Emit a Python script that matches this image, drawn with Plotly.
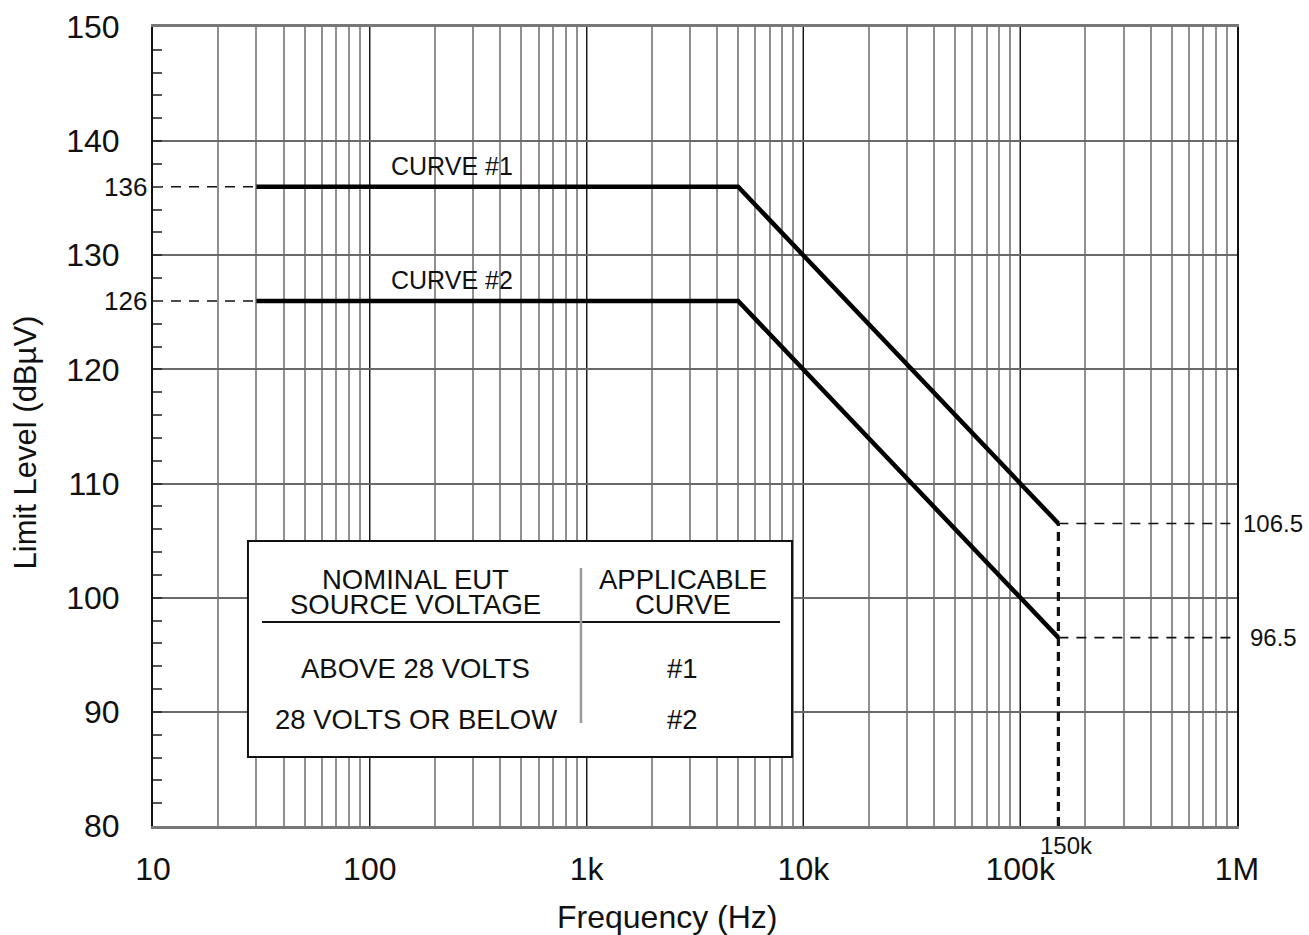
import math
import plotly.graph_objects as go

# ---- data ----
curve_freq = [30, 5000, 150000]
curve1_level = [136, 136, 106.5]
curve2_level = [126, 126, 96.5]
left_ref_freq = [10, 30]
left_ref_levels = [136, 126]
right_ref_freq = [150000, 1000000]
right_ref_levels = [106.5, 96.5]
right_ref_labels = ["106.5", "96.5"]
limit_freq = 150000
limit_label = "150k"
floor_level = 80
x_tickvals = [10, 100, 1000, 10000, 100000, 1000000]
x_ticktext = ["10", "100", "1k", "10k", "100k", "1M"]
y_tickvals = [80, 90, 100, 110, 120, 130, 140, 150]
curve_names = ["CURVE #1", "CURVE #2"]
table_header_left = ["NOMINAL EUT", "SOURCE VOLTAGE"]
table_header_right = ["APPLICABLE", "CURVE"]
table_rows_left = ["ABOVE 28 VOLTS", "28 VOLTS OR BELOW"]
table_rows_right = ["#1", "#2"]

FONT = "Liberation Sans, Arial, sans-serif"
INK = "#111111"

fig = go.Figure()

# dashed reference lines
for lvl in left_ref_levels:
    fig.add_trace(go.Scatter(x=left_ref_freq, y=[lvl, lvl], mode="lines",
                             line=dict(color=INK, width=1.6, dash="10px,8px"),
                             hoverinfo="skip", showlegend=False))
for lvl in right_ref_levels:
    fig.add_trace(go.Scatter(x=right_ref_freq, y=[lvl, lvl], mode="lines",
                             line=dict(color=INK, width=1.6, dash="10px,8px"),
                             hoverinfo="skip", showlegend=False))
fig.add_trace(go.Scatter(x=[limit_freq, limit_freq], y=[floor_level, right_ref_levels[0]],
                         mode="lines", line=dict(color=INK, width=3.2, dash="9px,6px"),
                         hoverinfo="skip", showlegend=False))

# limit curves
for lv, nm in zip([curve1_level, curve2_level], curve_names):
    fig.add_trace(go.Scatter(x=curve_freq, y=lv, mode="lines", name=nm,
                             line=dict(color="#000000", width=4.5),
                             showlegend=False))

annotations = []
# curve labels
for lv, nm in zip([curve1_level, curve2_level], curve_names):
    annotations.append(dict(x=math.log10(240), y=lv[0], xref="x", yref="y", text=nm,
                            showarrow=False, xanchor="center", yanchor="bottom", yshift=5,
                            font=dict(size=25, color=INK, family=FONT)))
# left small level labels
for lvl in left_ref_levels:
    annotations.append(dict(x=0, y=lvl, xref="x domain", yref="y", text=str(lvl),
                            showarrow=False, xanchor="right", xshift=-4,
                            font=dict(size=26, color=INK, family=FONT)))
# right small level labels
for lvl, lab in zip(right_ref_levels, right_ref_labels):
    annotations.append(dict(x=1, y=lvl, xref="x domain", yref="y", text=lab,
                            showarrow=False, xanchor="center", xshift=36,
                            font=dict(size=24, color=INK, family=FONT)))
# 150k label
annotations.append(dict(x=math.log10(limit_freq), y=0, xref="x", yref="y domain",
                        text=limit_label, showarrow=False, xanchor="left", xshift=-20,
                        yanchor="middle", yshift=-19,
                        font=dict(size=24, color=INK, family=FONT)))
# axis titles
annotations.append(dict(x=0.475, y=0, xref="x domain", yref="y domain",
                        text="Frequency (Hz)", showarrow=False, xanchor="center",
                        yanchor="middle", yshift=-91,
                        font=dict(size=32, color=INK, family=FONT)))
annotations.append(dict(x=0, y=0.48, xref="x domain", yref="y domain",
                        text="Limit Level (dBµV)", showarrow=False, textangle=-90,
                        xanchor="center", yanchor="middle", xshift=-128,
                        font=dict(size=31, color=INK, family=FONT)))

# table text
col_left_x, col_right_x = 0.2426, 0.4889
TF = dict(size=27.5, color=INK, family=FONT)
for txt, yy in zip(table_header_left, [0.3079, 0.2778]):
    annotations.append(dict(x=col_left_x, y=yy, xref="x domain", yref="y domain", text=txt,
                            showarrow=False, xanchor="center", yanchor="middle", font=TF))
for txt, yy in zip(table_header_right, [0.3079, 0.2778]):
    annotations.append(dict(x=col_right_x, y=yy, xref="x domain", yref="y domain", text=txt,
                            showarrow=False, xanchor="center", yanchor="middle", font=TF))
for txt, yy in zip(table_rows_left, [0.1977, 0.1327]):
    annotations.append(dict(x=col_left_x, y=yy, xref="x domain", yref="y domain", text=txt,
                            showarrow=False, xanchor="center", yanchor="middle", font=TF))
for txt, yy in zip(table_rows_right, [0.1977, 0.1327]):
    annotations.append(dict(x=col_right_x, y=yy, xref="x domain", yref="y domain", text=txt,
                            showarrow=False, xanchor="center", yanchor="middle", font=TF))

shapes = [
    dict(type="rect", xref="x domain", yref="y domain", x0=0.0876, x1=0.5895,
         y0=0.0864, y1=0.3567, fillcolor="white", line=dict(color=INK, width=2), layer="above"),
    dict(type="line", xref="x domain", yref="y domain", x0=0.1006, x1=0.5784,
         y0=0.2553, y1=0.2553, line=dict(color=INK, width=2), layer="above"),
    dict(type="line", xref="x domain", yref="y domain", x0=0.3948, x1=0.3948,
         y0=0.1289, y1=0.3229, line=dict(color="#9a9a9a", width=2.5), layer="above"),
]

fig.update_layout(
    width=1309, height=935,
    margin=dict(l=153, r=72, t=27, b=109, autoexpand=False),
    paper_bgcolor="white", plot_bgcolor="white",
    font=dict(family=FONT, color=INK),
    annotations=annotations, shapes=shapes,
)
fig.update_xaxes(
    type="log", range=[1, 6], automargin=False,
    tickvals=x_tickvals, ticktext=x_ticktext,
    tickfont=dict(size=32, color=INK, family=FONT),
    ticks="", ticklabelstandoff=13,
    showgrid=True, gridcolor="#1a1a1a", gridwidth=1.2,
    minor=dict(showgrid=True, gridcolor="#909090", gridwidth=2, dtick="D1", ticks=""),
    showline=True, linecolor="#777777", linewidth=2.5, mirror=True,
    zeroline=False,
)
fig.update_yaxes(
    range=[80, 150], tickvals=y_tickvals, automargin=False,
    tickfont=dict(size=32, color=INK, family=FONT),
    ticks="inside", ticklen=9, tickwidth=2, tickcolor="#333333",
    ticklabelstandoff=25,
    showgrid=True, gridcolor="#6a6a6a", gridwidth=1.5,
    minor=dict(dtick=2, ticks="inside", ticklen=9, tickwidth=2, tickcolor="#555555", showgrid=False),
    showline=True, linecolor="#111111", linewidth=2, mirror=True,
    zeroline=False,
)

# remove the default page margin so the figure fills the window exactly
fig.write_html("out.html",
               config={"displayModeBar": False},
               post_script="document.body.style.margin='0';document.body.style.overflow='hidden';")
